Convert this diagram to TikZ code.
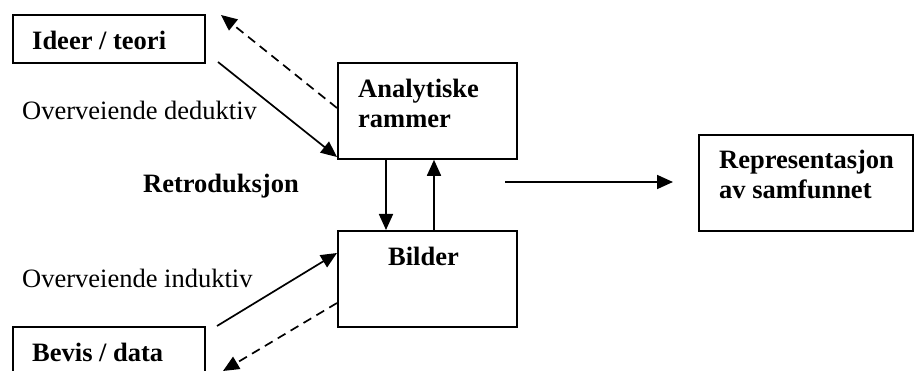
\documentclass[tikz,border=0pt]{standalone}
\usepackage{fontspec}
\setmainfont{Liberation Serif}
\usetikzlibrary{arrows.meta}
\begin{document}
\begin{tikzpicture}[x=1pt,y=-1pt,
  box/.style={draw,line width=1.8pt,minimum width=#1,inner sep=0pt,anchor=north west},
  lbl/.style={anchor=base west,inner sep=0pt,align=left},
  conn/.style={line width=1.7pt,-{Triangle[length=16pt,width=14pt]}},
  back/.style={conn,dash pattern=on 9pt off 6pt}]
\fontsize{26.5}{30.5}\selectfont
\useasboundingbox (0,0) rectangle (914,371);
\clip (0,0) rectangle (914,371);

% boxes
\node[box=192pt,minimum height=48pt] (ideer) at (12,14) {};
\node[box=179pt,minimum height=96pt] (analyt) at (337,62) {};
\node[box=179pt,minimum height=96pt] (bilder) at (337,230) {};
\node[box=214pt,minimum height=96pt] (repr) at (698,134) {};
\node[box=192pt,minimum height=60pt] (bevis) at (12,326) {};

% box texts (base anchor sits on the last line)
\node[lbl,font=\bfseries] (tideer) at (32,50) {Ideer / teori};
\node[lbl,font=\bfseries] (tanalyt) at (358,128) {Analytiske\\rammer};
\node[lbl,font=\bfseries] (tbilder) at (388,266) {Bilder};
\node[lbl,font=\bfseries] (trepr) at (719,199) {Representasjon\\av samfunnet};
\node[lbl,font=\bfseries] (tbevis) at (32,362) {Bevis / data};

% free labels
\node[lbl] (ded) at (22,120) {Overveiende deduktiv};
\node[lbl] (ind) at (22,288) {Overveiende induktiv};
\node[lbl,font=\bfseries] (retro) at (143,193) {Retroduksjon};

% connector end points
\coordinate (dedA) at (218,62);
\coordinate (dedB) at (337,157);
\coordinate (dashA) at (337,108);
\coordinate (dashB) at (221,15);
\coordinate (indA) at (217,326);
\coordinate (indB) at (337,253);
\coordinate (dashC) at (337,303);
\coordinate (dashD) at (223,371);
\coordinate (outA) at (505,182);
\coordinate (outB) at (673,182);

% connectors
\draw[conn] (dedA) -- (dedB);
\draw[back] (dashA) -- (dashB);
\draw[conn] (indA) -- (indB);
\draw[back] (dashC) -- (dashD);
\draw[conn] (analyt.south west -| 386,0) -- (bilder.north west -| 386,0);
\draw[conn] (bilder.north west -| 434,0) -- (analyt.south west -| 434,0);
\draw[conn] (outA) -- (outB);
\end{tikzpicture}
\end{document}
